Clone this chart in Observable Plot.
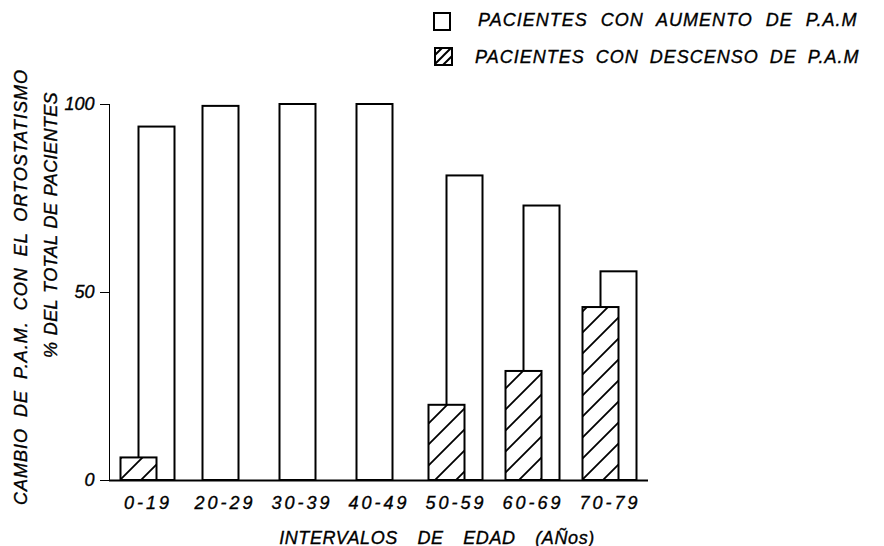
<!DOCTYPE html>
<html>
<head>
<meta charset="utf-8">
<script src="https://cdn.jsdelivr.net/npm/d3@7"></script>
<script src="https://cdn.jsdelivr.net/npm/@observablehq/plot@0.6"></script>
<style>
  html, body { margin: 0; padding: 0; background: white; }
  #wrap { position: relative; width: 884px; height: 546px; overflow: hidden; background: white;
          font-family: "Liberation Sans", Arial, sans-serif; font-style: italic; color: black;
          -webkit-text-stroke: 0.35px black; }
  .abs { position: absolute; white-space: nowrap; }
  .rot { transform: translate(-50%, -50%) rotate(-90deg); transform-origin: center; }
  .ctr { transform: translate(-50%, -50%); }
  .leg { font-size: 18px; letter-spacing: 1px; word-spacing: 7px; transform: translateY(-50%); }
  svg text { stroke: black; stroke-width: 0.35px; }
</style>
</head>
<body>
<div id="wrap"></div>
<script>
// ---- data ----
const categorias = ["0-19", "20-29", "30-39", "40-49", "50-59", "60-69", "70-79"];
const aumento   = [94, 99.5, 100, 100, 81, 73, 55.5];   // pacientes con aumento de P.A.M (%)
const descenso  = [6, 0, 0, 0, 20, 29, 46];             // pacientes con descenso de P.A.M (%)
const yTicks    = [0, 50, 100];
const serieAumento  = "PACIENTES CON AUMENTO DE P.A.M";
const serieDescenso = "PACIENTES  CON DESCENSO DE P.A.M";
const tituloY1 = "CAMBIO DE P.A.M. CON EL ORTOSTATISMO";
const tituloY2 = "% DEL TOTAL DE PACIENTES";
const tituloX  = "INTERVALOS DE EDAD (AÑos)";

const tabla = categorias.map((c, i) => ({c, aum: aumento[i], desc: descenso[i]}));
const conPar = tabla.filter(d => d.desc > 0);
const sinPar = tabla.filter(d => d.desc === 0);

const barStyle = {stroke: "black", strokeWidth: 2, insetLeft: 20.5, insetRight: 20.5};

const plot = Plot.plot({
  width: 884,
  height: 546,
  marginLeft: 109,
  marginRight: 236,
  marginTop: 104,
  marginBottom: 66,
  style: {fontFamily: "Liberation Sans, Arial, sans-serif", fontStyle: "italic", fontSize: "18px", color: "black", background: "white"},
  x: {domain: categorias, padding: 0, label: null, tickSize: 0, tickPadding: 16},
  y: {domain: [0, 100], ticks: yTicks, tickSize: 9, tickPadding: 6, label: null, line: true},
  marks: [
    Plot.barY(sinPar, {x: "c", y: "aum", fill: "white", dx: -4, ...barStyle}),
    Plot.barY(conPar, {x: "c", y: "aum", fill: "white", dx: 9, ...barStyle}),
    Plot.barY(conPar, {x: "c", y: "desc", fill: "url(#hatch)", dx: -9, ...barStyle}),
    Plot.ruleY([0], {stroke: "black", strokeWidth: 2})
  ]
});

// hatch pattern
function addHatch(svgNode, id) {
  const s = d3.select(svgNode);
  const defs = s.insert("defs", ":first-child");
  const w = 21;
  const p = defs.append("pattern").attr("id", id).attr("patternUnits", "userSpaceOnUse")
    .attr("width", w).attr("height", w);
  p.append("rect").attr("width", w).attr("height", w).attr("fill", "white");
  p.append("path")
    .attr("d", `M${-w/4},${w/4} L${w/4},${-w/4} M0,${w} L${w},0 M${3*w/4},${5*w/4} L${5*w/4},${3*w/4}`)
    .attr("stroke", "black").attr("stroke-width", 1.8);
}
addHatch(plot, "hatch");
d3.select(plot).selectAll("g[aria-label='x-axis tick label'] text, g[aria-label='x-axis tick label']")
  .style("letter-spacing", "3px");

const wrap = document.getElementById("wrap");
wrap.appendChild(plot);
plot.style.position = "absolute";
plot.style.left = "0px";
plot.style.top = "0px";

// legend
function addDiv(html, cls, styles) {
  const d = document.createElement("div");
  d.className = "abs " + cls;
  d.textContent = html;
  Object.assign(d.style, styles);
  wrap.appendChild(d);
  return d;
}
const box1 = document.createElement("div");
Object.assign(box1.style, {position: "absolute", left: "433px", top: "12px", width: "14px", height: "15px", border: "2px solid black", background: "white"});
wrap.appendChild(box1);

const box2 = document.createElementNS("http://www.w3.org/2000/svg", "svg");
box2.setAttribute("width", "19");
box2.setAttribute("height", "19");
Object.assign(box2.style, {position: "absolute", left: "434px", top: "47px"});
wrap.appendChild(box2);
const hs = d3.select(box2);
const pd = hs.append("defs").append("pattern").attr("id", "hatchLeg").attr("patternUnits", "userSpaceOnUse").attr("width", 9).attr("height", 9);
pd.append("rect").attr("width", 9).attr("height", 9).attr("fill", "white");
pd.append("path").attr("d", "M-2.25,2.25 L2.25,-2.25 M0,9 L9,0 M6.75,11.25 L11.25,6.75").attr("stroke", "black").attr("stroke-width", 2);
hs.append("rect").attr("x", 1).attr("y", 1).attr("width", 17).attr("height", 17).attr("fill", "url(#hatchLeg)").attr("stroke", "black").attr("stroke-width", 2);

addDiv(serieAumento, "leg", {left: "478px", top: "20px"});
addDiv(serieDescenso, "leg", {left: "475px", top: "57px", wordSpacing: "5px"});

// axis titles
addDiv(tituloY1, "rot", {left: "21px", top: "287px", fontSize: "18px", letterSpacing: "1px", wordSpacing: "5px"});
addDiv(tituloY2, "rot", {left: "51px", top: "225px", fontSize: "18px", letterSpacing: "0.4px", wordSpacing: "1px"});
addDiv(tituloX, "ctr", {left: "437px", top: "538px", fontSize: "18px", letterSpacing: "0.6px", wordSpacing: "14px"});
</script>
</body>
</html>
